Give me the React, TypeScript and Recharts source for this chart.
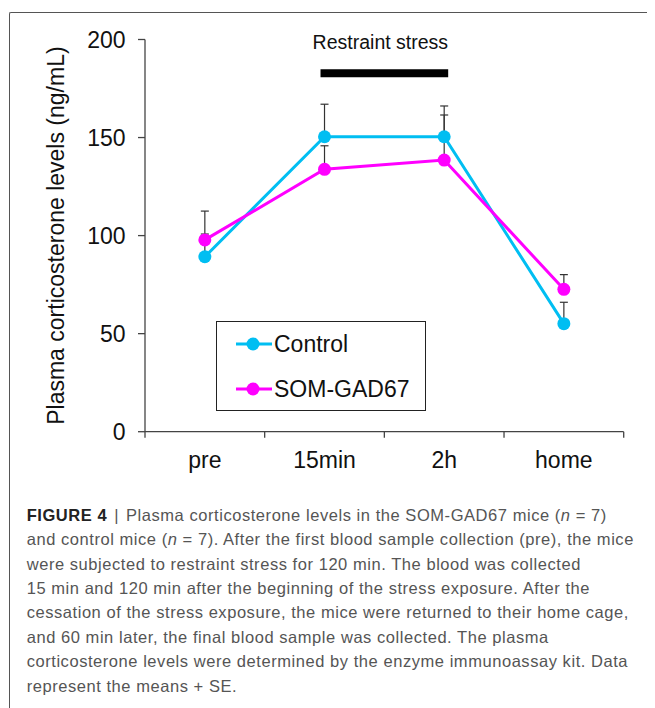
import React from 'react';
import {
  LineChart,
  Line,
  XAxis,
  YAxis,
  ErrorBar,
  ReferenceLine,
  Legend
} from 'recharts';

const categories = ['pre', '15min', '2h', 'home'];
const controlMeans = [89.2, 150.4, 150.4, 55.1];
const controlSE = [11.6, 16.6, 15.7, 10.9];
const somMeans = [97.8, 133.8, 138.5, 72.6];
const somSE = [14.7, 12.0, 23.0, 7.5];
const yTicks = [0, 50, 100, 150, 200];
const stressSpan = ['15min', '2h'];
const stressLevel = 182.8;

const seriesNames = ['Control', 'SOM-GAD67'];
const seriesColors = ['#00BEF2', '#FF00FF'];

const captionLines = [
  'and control mice (n = 7). After the first blood sample collection (pre), the mice',
  'were subjected to restraint stress for 120 min. The blood was collected',
  '15 min and 120 min after the beginning of the stress exposure. After the',
  'cessation of the stress exposure, the mice were returned to their home cage,',
  'and 60 min later, the final blood sample was collected. The plasma',
  'corticosterone levels were determined by the enzyme immunoassay kit. Data',
  'represent the means + SE.'
];

const data = categories.map((c, i) => ({
  time: c,
  control: controlMeans[i],
  controlErr: [0, controlSE[i]],
  som: somMeans[i],
  somErr: [0, somSE[i]]
}));

const FONT = '"Liberation Sans", Arial, sans-serif';
const AXIS = '#444';

// puts n in italics like the journal caption
const withItalicN = (line: string) => {
  const parts = line.split('(n = 7)');
  if (parts.length === 1) return line;
  return (
    <>
      {parts[0]}(<i>n</i> = 7){parts[1]}
    </>
  );
};

// category label in the middle of the band, tick marks on the band edges
const BandTick = (props: any) => {
  const { x, y, payload, index, visibleTicksCount } = props;
  const half = payload.offset || 0;
  const isLast = index === visibleTicksCount - 1;
  return (
    <g>
      <line x1={x - half} y1={y - 20} x2={x - half} y2={y - 14} stroke={AXIS} strokeWidth={1.3} />
      {isLast && (
        <line x1={x + half} y1={y - 20} x2={x + half} y2={y - 14} stroke={AXIS} strokeWidth={1.3} />
      )}
      <text x={x} y={y} dy="0.71em" textAnchor="middle" fontSize={23} fill="#111" fontFamily={FONT}>
        {payload.value}
      </text>
    </g>
  );
};

const LegendBox = () => (
  <div
    style={{
      width: 208,
      height: 88,
      border: '1px solid #222',
      background: '#fff',
      position: 'relative',
      fontFamily: FONT
    }}
  >
    {seriesNames.map((name, i) => (
      <div
        key={name}
        style={{
          position: 'absolute',
          left: 19,
          top: 11 + i * 45,
          height: 22,
          display: 'flex',
          alignItems: 'center'
        }}
      >
        <svg width={36} height={22} style={{ display: 'block' }}>
          <line x1={0} y1={11} x2={36} y2={11} stroke={seriesColors[i]} strokeWidth={3} />
          <circle cx={17} cy={11} r={6.5} fill={seriesColors[i]} />
        </svg>
        <span style={{ fontSize: 23, color: '#111', marginLeft: 2, lineHeight: '22px' }}>{name}</span>
      </div>
    ))}
  </div>
);

export default function App() {
  return (
    <div
      style={{
        position: 'relative',
        width: 647,
        height: 700,
        overflow: 'hidden',
        fontFamily: FONT,
        background: '#fff'
      }}
    >
      <div
        style={{
          position: 'absolute',
          left: 1,
          top: 4,
          width: 800,
          height: 800,
          borderLeft: '1px solid #555',
          borderTop: '1px solid #555',
          borderTopLeftRadius: 2
        }}
      />
      <div style={{ position: 'absolute', left: 0, top: 0 }}>
        <LineChart
          width={640}
          height={480}
          data={data}
          margin={{ top: 31.5, right: 24.3, left: 0, bottom: 0 }}
        >
          <XAxis
            dataKey="time"
            scale="band"
            stroke={AXIS}
            strokeWidth={1.3}
            tickLine={false}
            tickSize={6}
            tickMargin={14}
            height={56.3}
            tick={<BandTick />}
          />
          <YAxis
            domain={[0, 200]}
            ticks={yTicks}
            width={137}
            tickSize={7}
            tickMargin={12.5}
            stroke={AXIS}
            strokeWidth={1.3}
            tick={{ fontSize: 23, fill: '#111', fontFamily: FONT }}
            label={{
              value: 'Plasma corticosterone levels (ng/mL)',
              angle: -90,
              position: 'insideLeft',
              offset: 48,
              style: { textAnchor: 'middle', fontSize: 23, fill: '#111', fontFamily: FONT }
            }}
          />
          <ReferenceLine
            segment={[
              { x: stressSpan[0], y: stressLevel },
              { x: stressSpan[1], y: stressLevel }
            ]}
            stroke="#000"
            strokeWidth={8}
            strokeLinecap="square"
            label={{
              value: 'Restraint stress',
              position: 'top',
              offset: 24,
              dx: -4,
              style: { fontSize: 19.5, fill: '#111', fontFamily: FONT }
            }}
          />
          <Line
            dataKey="control"
            name={seriesNames[0]}
            stroke={seriesColors[0]}
            strokeWidth={3}
            dot={{ r: 6.5, fill: seriesColors[0], stroke: seriesColors[0], strokeWidth: 0 }}
            activeDot={false}
            isAnimationActive={false}
          >
            <ErrorBar dataKey="controlErr" direction="y" width={4} stroke="#333" strokeWidth={1.2} />
          </Line>
          <Line
            dataKey="som"
            name={seriesNames[1]}
            stroke={seriesColors[1]}
            strokeWidth={3}
            dot={{ r: 6.5, fill: seriesColors[1], stroke: seriesColors[1], strokeWidth: 0 }}
            activeDot={false}
            isAnimationActive={false}
          >
            <ErrorBar dataKey="somErr" direction="y" width={4} stroke="#333" strokeWidth={1.2} />
          </Line>
          <Legend
            layout="vertical"
            align="center"
            verticalAlign="middle"
            wrapperStyle={{ left: 208, top: 313, width: 210, height: 90 }}
            content={() => <LegendBox />}
          />
        </LineChart>
      </div>
      <div
        style={{
          position: 'absolute',
          left: 18.7,
          top: 494.8,
          fontSize: 16.5,
          letterSpacing: 0.55,
          lineHeight: '24.4px',
          color: '#555',
          whiteSpace: 'nowrap'
        }}
      >
        <div>
          <b style={{ color: '#222' }}>FIGURE 4</b>
          <span style={{ margin: '0 7px' }}>|</span>
          Plasma corticosterone levels in the SOM-GAD67 mice (<i>n</i> = 7)
        </div>
        {captionLines.map((l, i) => (
          <div key={i}>{withItalicN(l)}</div>
        ))}
      </div>
    </div>
  );
}
